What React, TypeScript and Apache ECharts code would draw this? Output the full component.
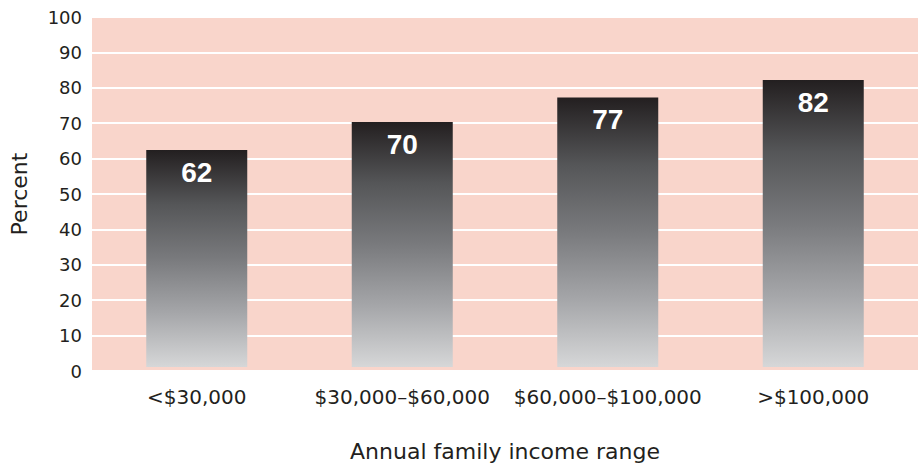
import React, { useEffect, useRef } from "react";
import * as echarts from "echarts";

const categories = ["<$30,000", "$30,000–$60,000", "$60,000–$100,000", ">$100,000"];
const values = [62, 70, 77, 82];
const yTicks = { min: 0, max: 100, interval: 10 };
const yAxisName = "Percent";
const xAxisName = "Annual family income range";

export default function App() {
  const ref = useRef<HTMLDivElement>(null);
  useEffect(() => {
    if (!ref.current) return;
    const chart = echarts.init(ref.current, null, { renderer: "svg" });
    const font = "'DejaVu Sans', Verdana, sans-serif";
    const boldFont = "'Liberation Sans', Arial, Helvetica, sans-serif";
    const gradient = new echarts.graphic.LinearGradient(0, 0, 0, 1, [
      { offset: 0, color: "#231f20" },
      { offset: 0.25, color: "#555658" },
      { offset: 0.5, color: "#797a7d" },
      { offset: 0.75, color: "#a5a6a9" },
      { offset: 1, color: "#d6d7d8" },
    ]);
    chart.setOption({
      animation: false,
      textStyle: { fontFamily: font },
      grid: [
        {
          left: 89, right: 0, top: 17, bottom: 96,
          show: true, backgroundColor: "#f9d5cb", borderWidth: 0,
        },
        { left: 94, right: 2, top: 17, bottom: 96 },
      ],
      xAxis: [
        { type: "value", gridIndex: 0, show: false, min: 0, max: 1 },
        {
          type: "category",
          gridIndex: 1,
          data: categories,
          axisLine: { show: false },
          axisTick: { show: false },
          axisLabel: { color: "#231f20", fontSize: 20, margin: 20, interval: 0, fontFamily: font },
          name: xAxisName,
          nameLocation: "middle",
          nameGap: 73,
          nameTextStyle: { color: "#231f20", fontSize: 22, fontFamily: font },
        },
      ],
      yAxis: [
        {
          type: "value",
          gridIndex: 0,
          min: yTicks.min,
          max: yTicks.max,
          interval: yTicks.interval,
          axisLine: { show: false },
          axisTick: { show: false },
          axisLabel: { color: "#231f20", fontSize: 18, margin: 10, fontFamily: font },
          splitLine: { show: true, lineStyle: { color: "#ffffff", width: 2 } },
          name: yAxisName,
          nameLocation: "middle",
          nameGap: 62,
          nameTextStyle: { color: "#231f20", fontSize: 22, fontFamily: font },
        },
        {
          type: "value",
          gridIndex: 1,
          min: yTicks.min,
          max: yTicks.max,
          interval: yTicks.interval,
          show: false,
          splitLine: { show: false },
        },
      ],
      series: [
        {
          type: "bar",
          xAxisIndex: 1,
          yAxisIndex: 1,
          data: values,
          barWidth: 101,
          itemStyle: { color: gradient },
          label: {
            show: true,
            position: "insideTop",
            distance: 8,
            color: "#ffffff",
            fontSize: 28,
            fontWeight: "bold",
            fontFamily: boldFont,
          },
        },
      ],
    });
    return () => chart.dispose();
  }, []);
  return <div ref={ref} style={{ width: 918, height: 467, position: "absolute", left: 0, top: 0 }} />;
}
